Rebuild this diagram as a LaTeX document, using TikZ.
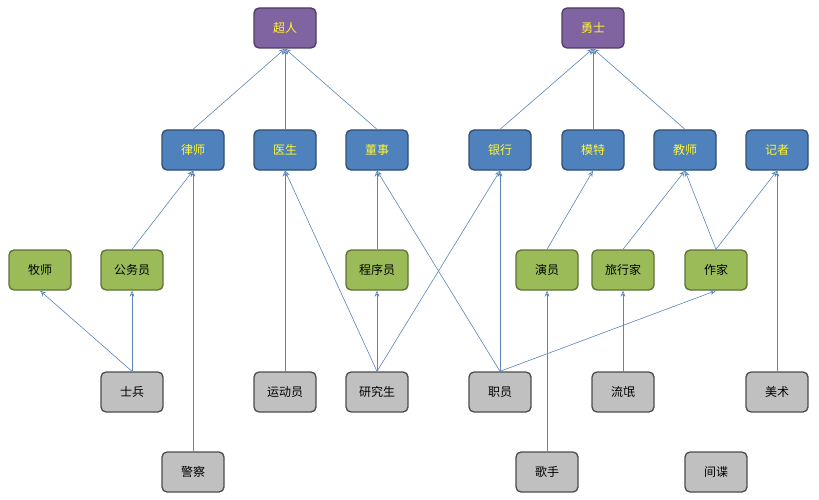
\documentclass[tikz,border=0pt]{standalone}
\usepackage{fontspec}
\newfontfamily\cjk{Noto Sans CJK SC}
\usetikzlibrary{arrows.meta}
\definecolor{pu}{HTML}{8064A2}\definecolor{bl}{HTML}{4F81BD}
\definecolor{gr}{HTML}{9BBB59}\definecolor{gy}{HTML}{C0C0C0}
\definecolor{ln}{HTML}{5A85B8}
\begin{document}
\begin{tikzpicture}[x=1pt,y=-1pt,font=\cjk\fontsize{12}{14}\selectfont,
 b/.style={draw=#1!60!black,line width=1.3pt,rounded corners=5pt,minimum width=62pt,minimum height=40pt,inner sep=0pt},
 P/.style={b=pu,fill=pu,text=yellow!80!white},
 B/.style={b=bl,fill=bl,text=yellow!80!white},
 G/.style={b=gr,fill=gr,text=black},
 Y/.style={b=gy,fill=gy,text=black,draw=black!70},
 e/.style={draw=ln,line width=0.6pt,-{Stealth[length=6pt,width=5pt,open]}}]
\useasboundingbox (0,0) rectangle (819,500);
\node[P] (cr) at (285,28) {超人}; \node[P] (ys) at (593,28) {勇士};
\node[B] (ls) at (193,150) {律师}; \node[B] (what) at (285,150) {医生};
\node[B] (ds) at (377,150) {董事}; \node[B] (yh) at (500,150) {银行};
\node[B] (mt) at (593,150) {模特}; \node[B] (js) at (685,150) {教师};
\node[B] (jz) at (777,150) {记者};
\node[G] (ms) at (40,270) {牧师}; \node[G] (gwy) at (132,270) {公务员};
\node[G] (cxy) at (377,270) {程序员}; \node[G] (yy) at (547,270) {演员};
\node[G] (lxj) at (623,270) {旅行家}; \node[G] (zj) at (716,270) {作家};
\node[Y] (sb) at (132,392) {士兵}; \node[Y] (ydy) at (285,392) {运动员};
\node[Y] (yjs) at (377,392) {研究生}; \node[Y] (zy) at (500,392) {职员};
\node[Y] (lm) at (623,392) {流氓}; \node[Y] (ms2) at (777,392) {美术};
\node[Y] (jc) at (193,472) {警察}; \node[Y] (gs) at (547,472) {歌手};
\node[Y] (jd) at (716,472) {间谍};
\foreach \a/\t in {ls/cr,what/cr,ds/cr,yh/ys,mt/ys,js/ys,gwy/ls,jc/ls,ydy/what,yjs/what,cxy/ds,zy/ds,yjs/yh,zy/yh,yy/mt,lxj/js,zj/js,zj/jz,sb/ms,sb/gwy,yjs/cxy,gs/yy,zy/zj,lm/lxj,ms2/jz}
  \draw[e] (\a.north) -- (\t.south);
\end{tikzpicture}
\end{document}
